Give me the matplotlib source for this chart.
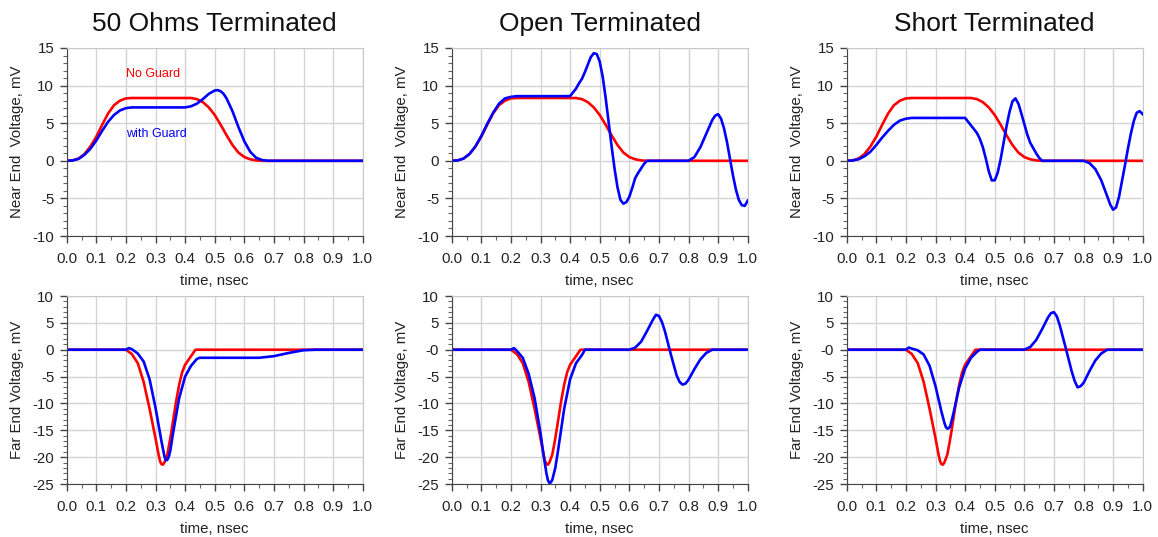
import numpy as np
import matplotlib
matplotlib.use('Agg')
import matplotlib.pyplot as plt
from matplotlib.ticker import MultipleLocator

plt.rcParams['font.family'] = ['Liberation Sans', 'DejaVu Sans']

# ---- data (time in nsec, voltage in mV) ----
titles = ['50 Ohms Terminated', 'Open Terminated', 'Short Terminated']

# No Guard curves (same in every termination)
near_red_t = [0, 0.02, 0.04, 0.06, 0.08, 0.10, 0.12, 0.14, 0.16, 0.18, 0.20, 0.22, 0.42, 0.44, 0.46,
              0.48, 0.50, 0.52, 0.54, 0.56, 0.58, 0.60, 0.62, 0.64, 0.66, 1.0]
near_red_v = [0, 0.05, 0.3, 0.9, 1.9, 3.2, 4.8, 6.3, 7.4, 8.0, 8.3, 8.35, 8.35, 8.2, 7.8,
              7.1, 6.1, 4.8, 3.4, 2.1, 1.1, 0.5, 0.2, 0.05, 0, 0]

far_red_t = [0, 0.20, 0.22, 0.24, 0.26, 0.28, 0.30, 0.31, 0.315, 0.32, 0.325, 0.33, 0.34, 0.35, 0.36,
             0.37, 0.38, 0.39, 0.40, 0.42, 0.435, 1.0]
far_red_v = [0, 0, -0.8, -2.5, -6.0, -11.0, -16.5, -19.4, -20.7, -21.3, -21.4, -21.0, -19.5, -16.5, -13.0,
             -9.5, -6.5, -4.2, -2.8, -1.2, 0, 0]

# with Guard curves
ohm50_near_t = [0, 0.02, 0.04, 0.06, 0.08, 0.10, 0.12, 0.14, 0.16, 0.18, 0.20, 0.22, 0.24, 0.40, 0.42,
                0.44, 0.46, 0.48, 0.50, 0.51, 0.52, 0.53, 0.54, 0.56, 0.58, 0.60, 0.62, 0.64, 0.66, 0.68, 1.0]
ohm50_near_v = [0, 0.05, 0.25, 0.8, 1.6, 2.7, 4.0, 5.2, 6.1, 6.7, 7.0, 7.1, 7.1, 7.1, 7.25,
                7.6, 8.2, 8.9, 9.35, 9.4, 9.25, 8.9, 8.3, 6.6, 4.5, 2.6, 1.2, 0.4, 0.1, 0, 0]

open_near_t = [0, 0.02, 0.04, 0.06, 0.08, 0.10, 0.12, 0.14, 0.16, 0.18, 0.20, 0.22, 0.40,
               0.42, 0.43, 0.44, 0.45, 0.46, 0.47, 0.48, 0.49, 0.50, 0.51, 0.52, 0.53, 0.54,
               0.55, 0.56, 0.57, 0.58, 0.59, 0.60, 0.61, 0.62, 0.63, 0.64, 0.65, 0.66,
               0.80, 0.82, 0.84, 0.86, 0.88, 0.89, 0.90, 0.91, 0.92, 0.93, 0.94, 0.95,
               0.96, 0.97, 0.98, 0.99, 1.0]
open_near_v = [0, 0.05, 0.3, 0.9, 1.9, 3.3, 4.9, 6.4, 7.6, 8.3, 8.5, 8.6, 8.6,
               9.6, 10.3, 10.9, 11.8, 12.8, 13.8, 14.3, 14.2, 13.2, 11.2, 8.4, 5.2, 2.0,
               -1.0, -3.5, -5.2, -5.7, -5.5, -4.8, -3.6, -2.3, -1.6, -1.0, -0.4, 0,
               0, 0.5, 1.8, 3.6, 5.4, 6.0, 6.2, 5.6, 4.3, 2.5, 0.3, -1.9,
               -3.8, -5.2, -5.9, -6.0, -5.3]

short_near_t = [0, 0.02, 0.04, 0.06, 0.08, 0.10, 0.12, 0.14, 0.16, 0.18, 0.20, 0.22, 0.40,
                0.41, 0.42, 0.43, 0.44, 0.45, 0.46, 0.47, 0.48, 0.49, 0.50, 0.51, 0.52, 0.53,
                0.54, 0.55, 0.56, 0.57, 0.58, 0.59, 0.60, 0.61, 0.62, 0.63, 0.64, 0.65, 0.66,
                0.80, 0.82, 0.84, 0.86, 0.88, 0.89, 0.90, 0.91, 0.92, 0.93, 0.94, 0.95,
                0.96, 0.97, 0.98, 0.99, 1.0]
short_near_v = [0, 0.05, 0.2, 0.6, 1.2, 2.1, 3.1, 4.0, 4.8, 5.35, 5.6, 5.7, 5.7,
                5.2, 4.7, 4.2, 3.7, 2.9, 1.8, 0.3, -1.4, -2.6, -2.6, -1.6, 0.2, 2.4,
                4.6, 6.5, 7.9, 8.3, 7.6, 6.3, 4.9, 3.5, 2.4, 1.7, 1.0, 0.4, 0,
                0, -0.3, -1.1, -2.6, -4.7, -5.8, -6.5, -6.2, -4.8, -2.7, -0.6, 1.6,
                3.6, 5.3, 6.4, 6.6, 6.2]

ohm50_far_t = [0, 0.20, 0.21, 0.22, 0.24, 0.26, 0.28, 0.30, 0.32, 0.33, 0.335, 0.34, 0.345, 0.35,
               0.36, 0.38, 0.40, 0.42, 0.44, 0.45, 0.65, 0.70, 0.75, 0.80, 0.84, 1.0]
ohm50_far_v = [0, 0, 0.3, 0.1, -0.7, -2.2, -5.5, -10.8, -17.0, -19.8, -20.6, -20.5, -19.9, -18.8,
               -15.3, -9.0, -5.0, -3.0, -1.7, -1.5, -1.5, -1.2, -0.6, -0.1, 0, 0]

open_far_t = [0, 0.20, 0.21, 0.22, 0.24, 0.26, 0.28, 0.30, 0.31, 0.32, 0.325, 0.33, 0.335, 0.34,
              0.35, 0.36, 0.38, 0.40, 0.42, 0.44, 0.45, 0.60, 0.62, 0.64, 0.66, 0.68, 0.69,
              0.70, 0.71, 0.72, 0.74, 0.76, 0.77, 0.78, 0.79, 0.80, 0.82, 0.84, 0.86, 0.88, 1.0]
open_far_v = [0, 0, 0.3, -0.2, -1.5, -4.5, -9.0, -15.5, -19.5, -23.0, -24.3, -24.8, -24.7, -24.2,
              -22.0, -18.5, -11.0, -5.5, -2.5, -1.0, 0, 0, 0.4, 1.5, 3.5, 5.6, 6.5,
              6.3, 5.2, 3.5, -0.8, -4.8, -6.0, -6.5, -6.3, -5.6, -3.6, -1.8, -0.6, 0, 0]

short_far_t = [0, 0.20, 0.21, 0.22, 0.24, 0.26, 0.28, 0.30, 0.32, 0.33, 0.335, 0.34, 0.345, 0.35,
               0.36, 0.38, 0.40, 0.42, 0.44, 0.45, 0.60, 0.62, 0.64, 0.66, 0.68, 0.69, 0.70,
               0.71, 0.72, 0.74, 0.76, 0.77, 0.78, 0.79, 0.80, 0.82, 0.84, 0.86, 0.88, 1.0]
short_far_v = [0, 0, 0.4, 0.2, -0.1, -0.9, -3.0, -6.8, -11.5, -13.6, -14.4, -14.7, -14.6, -14.2,
               -12.0, -7.0, -3.5, -1.5, -0.4, 0, 0, 0.5, 1.8, 3.8, 6.0, 6.8, 7.0,
               6.2, 4.5, 0.3, -4.0, -5.8, -7.0, -6.8, -6.2, -4.0, -2.0, -0.7, 0, 0]

guard_near = [(ohm50_near_t, ohm50_near_v), (open_near_t, open_near_v), (short_near_t, short_near_v)]
guard_far = [(ohm50_far_t, ohm50_far_v), (open_far_t, open_far_v), (short_far_t, short_far_v)]

x_ticks = [0.0, 0.1, 0.2, 0.3, 0.4, 0.5, 0.6, 0.7, 0.8, 0.9, 1.0]
near_yticks = [-10, -5, 0, 5, 10, 15]
near_ylabels = ['-10', '-5', '0', '5', '10', '15']
far_yticks = [-25, -20, -15, -10, -5, 0, 5, 10]
far_ylabels = [
    ['-25', '-20', '-15', '-10', '-5', '0', '5', '10'],
    ['-25', '-20', '-15', '-10', '-5', '-0', '5', '10'],
    ['-25', '-20', '-15', '-10', '-5', '-0', '5', '10'],
]

RED = '#ff0000'
BLUE = '#0000ff'
TXT = '#222222'

fig = plt.figure(figsize=(11.58, 5.37), dpi=100)

lefts = [66.7 / 1158, 451.7 / 1158, 846.7 / 1158]
w = 296 / 1158
h = 188 / 537
bottoms = [1 - 236 / 537, 1 - 484 / 537]


def style_axis(ax, yticks, ylabels, ylim, ylabel):
    ax.set_xlim(0, 1.0)
    ax.set_ylim(*ylim)
    ax.set_xticks(x_ticks)
    ax.set_xticklabels(['%.1f' % v for v in x_ticks])
    ax.set_yticks(yticks)
    ax.set_yticklabels(ylabels)
    ax.xaxis.set_minor_locator(MultipleLocator(0.05))
    ax.yaxis.set_minor_locator(MultipleLocator(1))
    ax.grid(True, which='major', color='#d4d4d4', lw=1.0)
    ax.set_axisbelow(True)
    ax.tick_params(which='major', length=5, width=1, color='#444444',
                   labelsize=10.8, labelcolor=TXT)
    ax.tick_params(axis='x', which='major', pad=6.5)
    ax.tick_params(axis='y', which='major', pad=4)
    ax.tick_params(which='minor', length=3, width=0.8, color='#666666')
    for s in ['top', 'right']:
        ax.spines[s].set_color('#c8c8c8')
    for s in ['left', 'bottom']:
        ax.spines[s].set_color('#444444')
    ax.set_xlabel('time, nsec', fontsize=10.8, color=TXT)
    ax.xaxis.set_label_coords(0.5, -0.2)
    ax.set_ylabel(ylabel, fontsize=10.8, color=TXT)
    ax.yaxis.set_label_coords(-0.145, 0.5)


for i in range(3):
    ax = fig.add_axes([lefts[i], bottoms[0], w, h])
    ax.plot(near_red_t, near_red_v, color=RED, lw=1.9)
    ax.plot(guard_near[i][0], guard_near[i][1], color=BLUE, lw=1.9)
    style_axis(ax, near_yticks, near_ylabels, (-10, 15), 'Near End  Voltage, mV')
    ax.set_title(titles[i], fontsize=19, color='#111111', pad=12)
    if i == 0:
        ax.text(0.2, 11.6, 'No Guard', color=RED, fontsize=9, va='center', ha='left')
        ax.text(0.2, 3.6, 'with Guard', color=BLUE, fontsize=9, va='center', ha='left')

    ax2 = fig.add_axes([lefts[i], bottoms[1], w, h])
    ax2.plot(far_red_t, far_red_v, color=RED, lw=1.9)
    ax2.plot(guard_far[i][0], guard_far[i][1], color=BLUE, lw=1.9)
    style_axis(ax2, far_yticks, far_ylabels[i], (-25, 10), 'Far End Voltage, mV')

fig.savefig('out.png', dpi=100)
